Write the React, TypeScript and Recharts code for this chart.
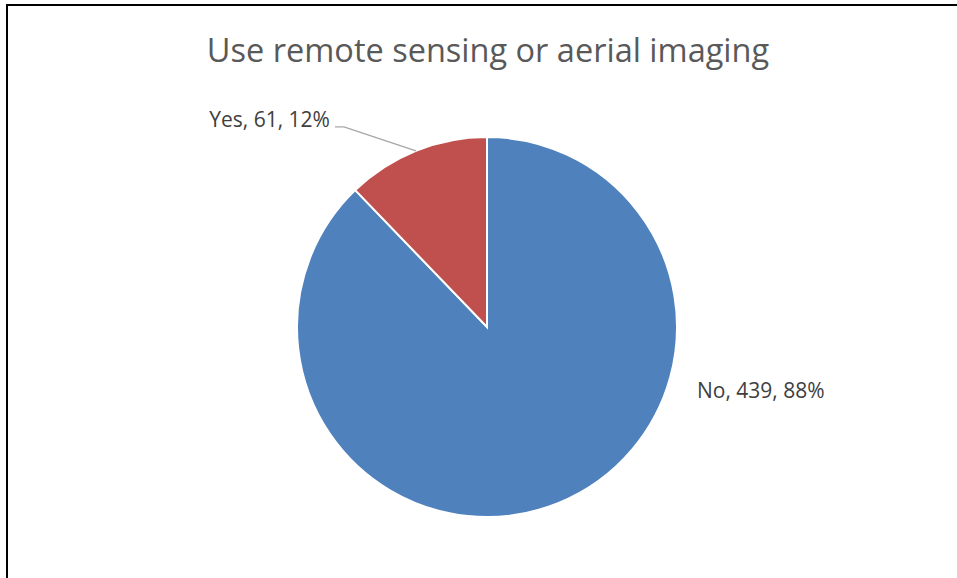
import React from "react";
import { PieChart, Pie, Cell } from "recharts";

const title = "Use remote sensing or aerial imaging";
const categories = ["No", "Yes"];
const counts = [439, 61];
const percents = ["88%", "12%"];
const colors = ["#4F81BD", "#C0504D"];

const data = categories.map((name, i) => ({ name, value: counts[i], pct: percents[i] }));

const RAD = Math.PI / 180;
const FONT = "'Open Sans', sans-serif";

const renderLabel = (props: any) => {
  const { cx, cy, midAngle, outerRadius, index } = props;
  const d = data[index];
  const text = `${d.name}, ${d.value}, ${d.pct}`;
  if (index === 1) {
    const sx = cx + outerRadius * Math.cos(-midAngle * RAD);
    const sy = cy + outerRadius * Math.sin(-midAngle * RAD);
    const ex = sx - 72;
    const ey = sy - 24;
    return (
      <g>
        <polyline
          points={`${sx},${sy} ${ex},${ey} ${ex - 9},${ey}`}
          fill="none"
          stroke="#A6A6A6"
          strokeWidth={1.3}
        />
        <text x={ex - 14} y={ey} textAnchor="end" fill="#404040" fontSize={21} fontFamily={FONT}>
          {text}
        </text>
      </g>
    );
  }
  return (
    <text x={cx + outerRadius + 20} y={cy + 71} textAnchor="start" fill="#404040" fontSize={21} fontFamily={FONT}>
      {text}
    </text>
  );
};

export default function App() {
  return (
    <div style={{ position: "absolute", left: 0, top: 0, width: 957, height: 578, overflow: "hidden", background: "#fff" }}>
      <div
        style={{
          position: "absolute",
          left: 6,
          top: 4,
          width: 1000,
          height: 700,
          border: "2px solid #000",
          boxSizing: "border-box",
        }}
      />
      <div
        style={{
          position: "absolute",
          left: 0,
          top: 26,
          width: 976,
          textAlign: "center",
          fontFamily: FONT,
          fontSize: 32.5,
          color: "#595959",
          lineHeight: "48px",
        }}
      >
        {title}
      </div>
      <div style={{ position: "absolute", left: 0, top: 0 }}>
        <PieChart width={957} height={578} margin={{ top: 0, right: 0, bottom: 0, left: 0 }}>
          <Pie
            data={data}
            dataKey="value"
            nameKey="name"
            cx={487}
            cy={327}
            outerRadius={190}
            startAngle={90}
            endAngle={-270}
            stroke="#FFFFFF"
            strokeWidth={2}
            label={renderLabel}
            labelLine={false}
            isAnimationActive={false}
          >
            {data.map((d, i) => (
              <Cell key={d.name} fill={colors[i]} />
            ))}
          </Pie>
        </PieChart>
      </div>
    </div>
  );
}
